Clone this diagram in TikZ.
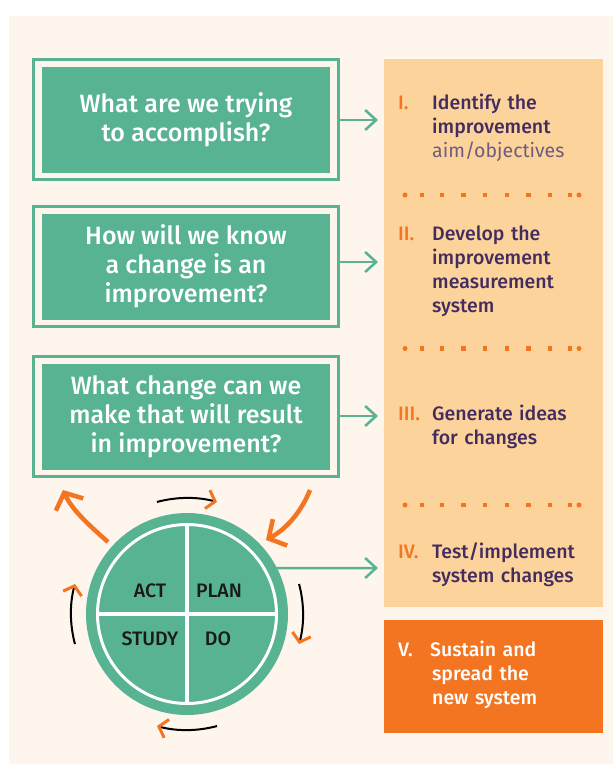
\documentclass[tikz,border=0pt]{standalone}
\usepackage{fontspec}
\setmainfont{Fira Sans}[BoldFont={Fira Sans Medium}]
\usetikzlibrary{arrows.meta}
\definecolor{bg}{HTML}{FEF5EC}
\definecolor{grn}{HTML}{58B393}
\definecolor{panel}{HTML}{FDD39C}
\definecolor{org}{HTML}{F47521}
\definecolor{purp}{HTML}{432C5E}
\definecolor{purpl}{HTML}{6E5C7E}
\definecolor{ink}{HTML}{1A1A1A}
\begin{document}
\begin{tikzpicture}[x=1pt,y=-1pt,
  qframe/.style={draw=grn, line width=3pt, minimum width=305pt, minimum height=120pt, inner sep=0pt},
  qbox/.style={fill=grn, text=white, font=\fontsize{25}{29}\selectfont\bfseries, align=center, minimum width=288pt, minimum height=106pt, inner sep=0pt},
  conn/.style={draw=grn, line width=2.5pt, -{Straight Barb[length=11pt,width=20pt]}},
  num/.style={text=org, font=\fontsize{19.5}{24}\selectfont\bfseries, anchor=base west, inner sep=0pt},
  item/.style={text=purp, font=\fontsize{19.5}{24}\selectfont\bfseries, anchor=base west, inner sep=0pt, text width=165pt, align=left},
  pdsa/.style={text=ink, font=\fontsize{19.5}{22}\selectfont\bfseries, inner sep=0pt},
  bigarrow/.style={draw=org, line width=4.5pt, -{Straight Barb[length=13pt,width=30pt]}},
  cyclearrow/.style={draw=black, line width=2pt, -{Straight Barb[length=8pt,width=19pt,line width=3pt,color=org]}}
]
\useasboundingbox (0,0) rectangle (613,765);
\fill[bg] (9,16) rectangle (613,764);

% question boxes
\node[qframe] (q1f) at (186.3,119.6) {};
\node[qbox] (q1) at (186,119.7) {What are we trying\\to accomplish?};
\node[qframe] (q2f) at (186.3,266.7) {};
\node[qbox] (q2) at (186,266.7) {How will we know\\a change is an\\improvement?};
\node[qframe] (q3f) at (186.3,416.7) {};
\node[qbox] (q3) at (186,416.7) {What change can we\\make that will result\\in improvement?};

% right panel
\node[fill=panel, minimum width=219pt, minimum height=548pt, inner sep=0pt] (panel) at (493.5,333) {};
\node[fill=org, minimum width=219pt, minimum height=113pt, inner sep=0pt] (sus) at (493.5,676.5) {};

\coordinate (t1) at (378,120);
\coordinate (t2) at (378,262);
\coordinate (t3) at (378,416);
\coordinate (t4) at (378,568);

\node[num] (n1) at (398,110) {I.};
\node[item] (i1) at (432,110) {Identify the\\improvement\\{\mdseries\color{purpl}aim/objectives}};
\node[num] (n2) at (398,240) {II.};
\node[item] (i2) at (432,240) {Develop the\\improvement\\measurement\\system};
\node[num] (n3) at (398,420) {III.};
\node[item] (i3) at (432,420) {Generate ideas\\for changes};
\node[num] (n4) at (398,558) {IV.};
\node[item] (i4) at (432,558) {Test/implement\\system changes};
\node[num, text=white] (n5) at (398,656.7) {V.};
\node[item, text=white] (i5) at (430,656.7) {Sustain and\\\hspace*{2pt}spread the\\\hspace*{2pt}new system};

% dotted separators
\foreach \yy in {195,348.5,505} {
  \fill[org] (405,\yy) circle (2.5);
  \fill[org] (579,\yy) circle (2.5);
  \foreach \xx in {421.7,441.7,463.3,485,506.7,528.3,550,570}
    \fill[org] (\xx-2.2,\yy-2.2) rectangle ++(4.4,4.4);
}

% connectors
\draw[conn] (q1f.east |- t1) -- (t1);
\draw[conn] (q2f.east |- t2) -- (t2);
\draw[conn] (q3f.east |- t3) -- (t3);

% PDSA cycle
\node[circle, fill=grn, minimum size=202pt, inner sep=0pt] (cyc) at (187,614) {};
\draw[white, line width=3pt] (cyc.center) circle (89.5);
\draw[white, line width=3.5pt] (187,524.5) -- (187,703.5);
\draw[white, line width=3.5pt] (97.5,614) -- (276.5,614);
\node[pdsa] (act) at (150,591) {ACT};
\node[pdsa] (plan) at (219,591) {PLAN};
\node[pdsa] (study) at (150,639) {STUDY};
\node[pdsa] (do) at (218,639) {DO};
\draw[conn] (cyc.27) -- (t4);

% big orange arrows
\draw[bigarrow] (108,542) .. controls (90,526) and (72,510) .. (63,490);
\draw[bigarrow] (310,490) .. controls (302,510) and (288,528) .. (266,540);

% cycle arrows
\draw[cyclearrow] (cyc.center) ++(-105:116) arc[start angle=-105, end angle=-75, radius=116];
\draw[cyclearrow] (cyc.center) ++(-15:116) arc[start angle=-15, end angle=15, radius=116];
\draw[cyclearrow] (cyc.center) ++(75:116) arc[start angle=75, end angle=105, radius=116];
\draw[cyclearrow] (cyc.center) ++(165:116) arc[start angle=165, end angle=195, radius=116];
\end{tikzpicture}
\end{document}
